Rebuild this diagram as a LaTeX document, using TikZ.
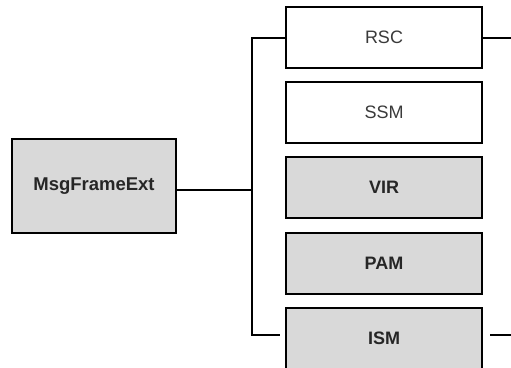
\documentclass[tikz,border=0pt]{standalone}
\usepackage{fontspec}
\setmainfont{Liberation Sans}
\definecolor{boxgray}{HTML}{D9D9D9}
\definecolor{txtgray}{HTML}{3A3A3A}
\tikzset{
  blk/.style={draw=black, line width=2pt, minimum width=196pt, minimum height=61pt, inner sep=0pt, font=\fontsize{18}{21}\selectfont},
  plainbox/.style={blk, fill=white, text=txtgray},
  greybox/.style={blk, fill=boxgray, text=black!85, font=\fontsize{18}{21}\selectfont\bfseries},
  wire/.style={draw=black, line width=2pt}
}
\begin{document}
\begin{tikzpicture}[x=1pt,y=-1pt]
\useasboundingbox (0,0) rectangle (511,367);
\clip (0,0) rectangle (511,367);
\fill[white] (0,0) rectangle (511,367);
\node[greybox, minimum width=164pt, minimum height=94pt, font=\fontsize{18.5}{21}\selectfont\bfseries] (root) at (94,186) {MsgFrameExt};
\node[plainbox] (rsc) at (384,37.5) {RSC};
\node[plainbox] (ssm) at (384,112.5) {SSM};
\node[greybox] (vir) at (384,187.5) {VIR};
\node[greybox] (pam) at (384,263) {PAM};
\node[greybox] (ism) at (384,338) {ISM};
\coordinate (bus) at (252,190);
\coordinate (topj) at (252,38);
\coordinate (botj) at (252,335);
\coordinate (ismL) at (280,335);
\coordinate (ismR1) at (490,335);
\coordinate (ismR2) at (511,335);
\coordinate (rscR) at (511,38);
\draw[wire] (root.east |- bus) -- (bus);
\draw[wire] (rsc.west |- topj) -- (topj) -- (botj) -- (ismL);
\draw[wire] (rsc.east |- rscR) -- (rscR);
\draw[wire] (ismR1) -- (ismR2);
\end{tikzpicture}
\end{document}
